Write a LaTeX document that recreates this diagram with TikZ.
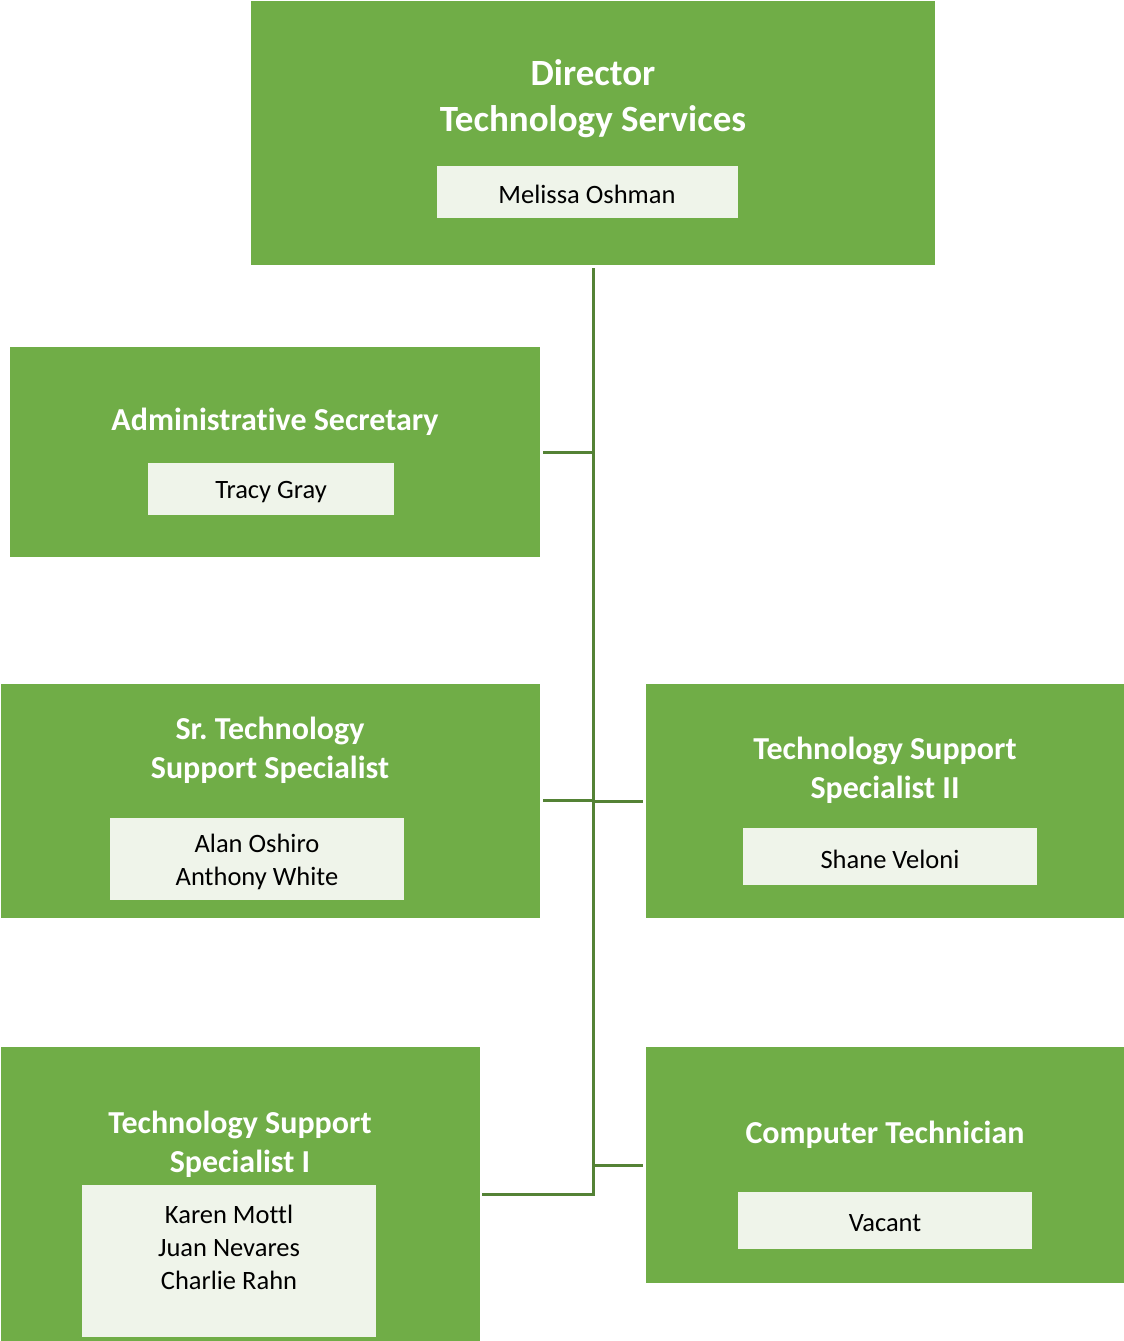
\documentclass[tikz,border=0pt]{standalone}
\usepackage{fontspec}
\setmainfont{Carlito}[Ligatures={NoCommon}]
\frenchspacing
\definecolor{boxgreen}{HTML}{70AD47}
\definecolor{linegreen}{HTML}{548235}
\definecolor{namefill}{HTML}{EFF4EA}
\tikzset{
  gbox/.style={fill=boxgreen, draw=none, anchor=north west, inner sep=0pt, outer sep=0pt},
  nbox/.style={fill=namefill, draw=none, anchor=north west, inner sep=0pt, outer sep=0pt},
  bigtitle/.style={text=white, align=center, inner sep=0pt, font=\bfseries\fontsize{37}{46}\selectfont},
  title/.style={text=white, align=center, inner sep=0pt, font=\bfseries\fontsize{32}{39}\selectfont},
  names/.style={text=black, align=center, inner sep=0pt, font=\fontsize{26.5}{33}\selectfont},
  conn/.style={draw=linegreen, line width=3pt}
}
\begin{document}
\begin{tikzpicture}[x=1pt,y=-1pt]
\useasboundingbox (0,0) rectangle (1124,1341);
% Director
\node[gbox, minimum width=684pt, minimum height=264pt] (dir) at (251,1) {};
\node[bigtitle] (dirt) at (593,99) {Director\\Technology Services};
\node[nbox, minimum width=301pt, minimum height=52pt] (dirn) at (437,166) {};
\node[names] (dirnt) at (587,194) {Melissa Oshman};
% Administrative Secretary
\node[gbox, minimum width=530pt, minimum height=210pt] (adm) at (10,347) {};
\node[title] (admt) at (275,422) {Administrative Secretary};
\node[nbox, minimum width=246pt, minimum height=52pt] (admn) at (148,463) {};
\node[names] (admnt) at (271,492) {Tracy Gray};
% Sr. Technology Support Specialist
\node[gbox, minimum width=539pt, minimum height=234pt] (sr) at (1,684) {};
\node[title] (srt) at (270,750.5) {Sr.\ Technology\\Support Specialist};
\node[nbox, minimum width=294pt, minimum height=82pt] (srn) at (110,818) {};
\node[names] (srnt) at (257,862) {Alan Oshiro\\Anthony White};
% Technology Support Specialist II
\node[gbox, minimum width=478pt, minimum height=234pt] (ts2) at (646,684) {};
\node[title] (ts2t) at (885,770.5) {Technology Support\\Specialist II};
\node[nbox, minimum width=294pt, minimum height=57pt] (ts2n) at (743,828) {};
\node[names] (ts2nt) at (890,859) {Shane Veloni};
% Technology Support Specialist I
\node[gbox, minimum width=479pt, minimum height=294pt] (ts1) at (1,1047) {};
\node[title] (ts1t) at (240,1144.5) {Technology Support\\Specialist I};
\node[nbox, minimum width=294pt, minimum height=152pt] (ts1n) at (82,1185) {};
\node[names] (ts1nt) at (229,1247) {Karen Mottl\\Juan Nevares\\Charlie Rahn};
% Computer Technician
\node[gbox, minimum width=478pt, minimum height=236pt] (ct) at (646,1047) {};
\node[title] (ctt) at (885,1135) {Computer Technician};
\node[nbox, minimum width=294pt, minimum height=57pt] (ctn) at (738,1192) {};
\node[names] (ctnt) at (885,1223) {Vacant};
% connectors
\coordinate (top) at (593,268);
\coordinate (jadm) at (593,452);
\coordinate (jsr) at (593,800);
\coordinate (jts2) at (593,801);
\coordinate (jct) at (593,1165);
\coordinate (bot) at (593,1194);
\draw[conn] (top) -- (bot);
\draw[conn, shorten >=3pt] (jadm) -- (adm.east |- jadm);
\draw[conn, shorten >=3pt] (jsr) -- (sr.east |- jsr);
\draw[conn, shorten >=3pt] (jts2) -- (ts2.west |- jts2);
\draw[conn, shorten >=3pt] (jct) -- (ct.west |- jct);
\draw[conn, shorten >=3pt, line cap=rect] (bot) -- (ts1.east |- bot);
\end{tikzpicture}
\end{document}
